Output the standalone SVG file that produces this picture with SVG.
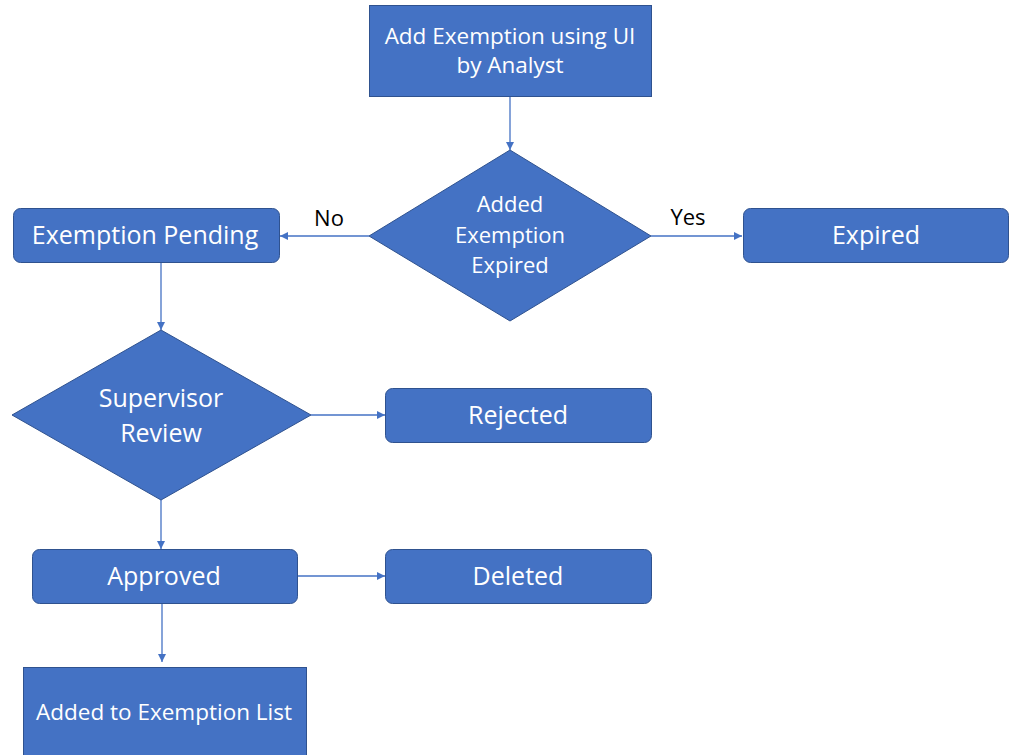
<svg xmlns="http://www.w3.org/2000/svg" width="1009" height="755" viewBox="0 0 1009 755">
<style>
.n{fill:#4472C4;stroke:#2F528F;stroke-width:1}
.t{font-family:"Open Sans","Liberation Sans",sans-serif;fill:#fff;text-anchor:middle}
.l{font-family:"Open Sans","Liberation Sans",sans-serif;fill:#000;text-anchor:middle;font-size:22px}
.c{stroke:#4472C4;stroke-width:1.3;fill:none;marker-end:url(#a)}
</style>
<defs>
<marker id="a" viewBox="0 0 10 10" refX="10" refY="5" markerWidth="8" markerHeight="8" markerUnits="userSpaceOnUse" orient="auto"><path d="M0,0 L10,5 L0,10 z" fill="#4472C4"/></marker>
</defs>
<rect width="1009" height="755" fill="#fff"/>
<g id="connectors">
<line class="c" x1="510" y1="96" x2="510" y2="150"/>
<line class="c" x1="369" y1="236" x2="280" y2="236"/>
<line class="c" x1="651" y1="236" x2="742" y2="236"/>
<line class="c" x1="161" y1="262" x2="161" y2="330"/>
<line class="c" x1="311" y1="415" x2="385" y2="415"/>
<line class="c" x1="161" y1="500" x2="161" y2="549"/>
<line class="c" x1="297" y1="576" x2="385" y2="576"/>
<line class="c" x1="162" y1="603" x2="162" y2="662"/>
<text class="l" x="329" y="226">No</text>
<text class="l" x="688" y="225">Yes</text>
</g>
<g id="add">
<rect class="n" x="369.5" y="5.5" width="282" height="91"/>
<text class="t" font-size="22.5" x="510" y="44">Add Exemption using UI</text>
<text class="t" font-size="22.5" x="510" y="73">by Analyst</text>
</g>
<g id="expiredQ">
<polygon class="n" points="510,150 651,236 510,321 369,236"/>
<text class="t" font-size="22" x="510" y="212">Added</text>
<text class="t" font-size="22" x="510" y="243">Exemption</text>
<text class="t" font-size="22" x="510" y="273">Expired</text>
</g>
<g id="pending">
<rect class="n" x="13.5" y="208.5" width="266" height="54" rx="7"/>
<text class="t" font-size="25" x="145" y="244">Exemption Pending</text>
</g>
<g id="expired">
<rect class="n" x="743.5" y="208.5" width="265" height="54" rx="7"/>
<text class="t" font-size="25" x="876" y="244">Expired</text>
</g>
<g id="review">
<polygon class="n" points="161,330 311,415 161,500 12,415"/>
<text class="t" font-size="25" x="161" y="407">Supervisor</text>
<text class="t" font-size="25" x="161" y="442">Review</text>
</g>
<g id="rejected">
<rect class="n" x="385.5" y="388.5" width="266" height="54" rx="7"/>
<text class="t" font-size="25" x="518" y="424">Rejected</text>
</g>
<g id="approved">
<rect class="n" x="32.5" y="549.5" width="265" height="54" rx="7"/>
<text class="t" font-size="25" x="164" y="585">Approved</text>
</g>
<g id="deleted">
<rect class="n" x="385.5" y="549.5" width="266" height="54" rx="7"/>
<text class="t" font-size="25" x="518" y="585">Deleted</text>
</g>
<g id="list">
<rect class="n" x="23.5" y="667.5" width="283" height="95"/>
<text class="t" font-size="22.5" x="164" y="720">Added to Exemption List</text>
</g>
</svg>
